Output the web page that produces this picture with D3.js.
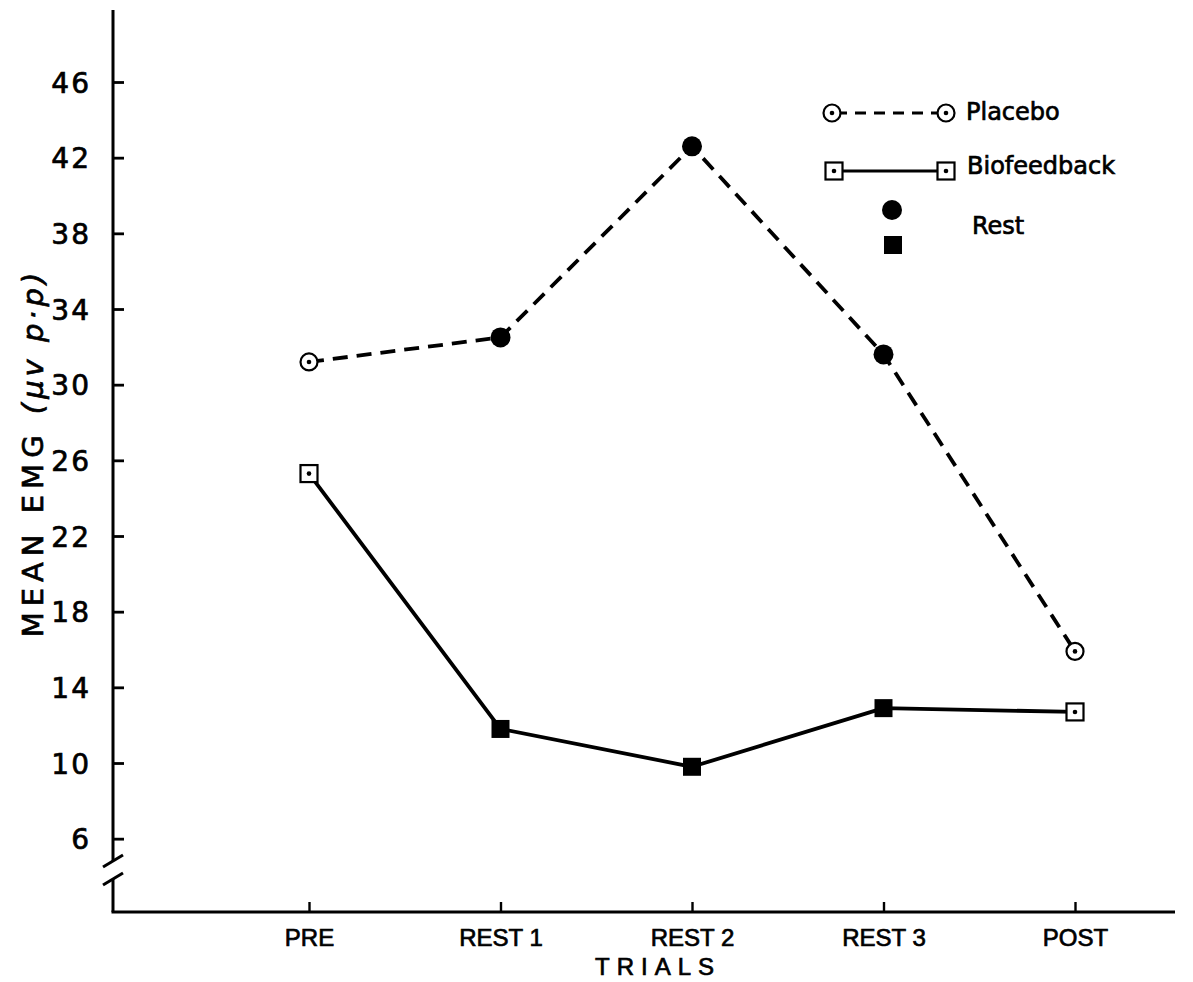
<!DOCTYPE html>
<html>
<head>
<meta charset="utf-8">
<script src="https://cdnjs.cloudflare.com/ajax/libs/d3/7.8.5/d3.min.js"></script>
<style>
  body { margin: 0; background: #fff; }
  svg { display: block; }
  text { fill: #000; stroke: #000; stroke-width: 0.7px; }
</style>
</head>
<body>
<script>
// values
var trials = ["PRE", "REST 1", "REST 2", "REST 3", "POST"];
var placebo = [31.2, 32.5, 42.6, 31.6, 15.9];
var biofeedback = [25.3, 11.8, 9.8, 12.9, 12.7];
var restFlag = [false, true, true, true, false];
var yTicks = [6, 10, 14, 18, 22, 26, 30, 34, 38, 42, 46];

var drawChart = () => {
  const w = 1193;
  const h = 982;
  const axisX = 113;
  const axisY = 912;
  const topY = 10;
  const rightX = 1175;

  var svg = d3.select("body")
    .append("svg")
    .attr("width", w)
    .attr("height", h);

  var x = d3.scalePoint()
    .domain(trials)
    .range([309, 1075]);

  var y = d3.scaleLinear()
    .domain([10, 46])
    .range([763, 82]);

  // y axis: ticks pointing inward, own line with a break near the bottom
  var yAxis = d3.axisLeft(y)
    .tickValues(yTicks)
    .tickSize(-11)
    .tickSizeOuter(0)
    .tickPadding(22);

  var gy = svg.append("g")
    .attr("transform", "translate(" + axisX + ",0)")
    .call(yAxis);
  gy.select(".domain").remove();
  gy.selectAll(".tick line").attr("stroke", "#000").attr("stroke-width", 2.8);
  gy.selectAll(".tick text")
    .attr("font-family", "DejaVu Sans")
    .attr("font-size", 28)
    .attr("letter-spacing", 2)
    .attr("dy", "0.36em");

  var brk1 = 861, brk2 = 879;
  svg.append("line")
    .attr("x1", axisX).attr("x2", axisX)
    .attr("y1", topY).attr("y2", brk1)
    .attr("stroke", "#000").attr("stroke-width", 3);
  svg.append("line")
    .attr("x1", axisX).attr("x2", axisX)
    .attr("y1", brk2).attr("y2", axisY)
    .attr("stroke", "#000").attr("stroke-width", 3);
  [brk1, brk2].forEach(b => {
    svg.append("line")
      .attr("x1", axisX - 10).attr("y1", b + 6)
      .attr("x2", axisX + 10).attr("y2", b - 6)
      .attr("stroke", "#000").attr("stroke-width", 3);
  });

  // x axis
  svg.append("line")
    .attr("x1", axisX - 1.5).attr("x2", rightX)
    .attr("y1", axisY).attr("y2", axisY)
    .attr("stroke", "#000").attr("stroke-width", 3);

  var xAxis = d3.axisBottom(x)
    .tickSize(-10)
    .tickSizeOuter(0);
  var gx = svg.append("g")
    .attr("transform", "translate(0," + axisY + ")")
    .call(xAxis);
  gx.select(".domain").remove();
  gx.selectAll(".tick line").attr("stroke", "#000").attr("stroke-width", 2.4);
  gx.selectAll(".tick text")
    .attr("font-family", "Liberation Sans")
    .attr("font-size", 24)
    .attr("y", 34)
    .attr("dy", 0);

  svg.append("text")
    .attr("x", 658)
    .attr("y", 975)
    .attr("text-anchor", "middle")
    .attr("font-family", "Liberation Sans")
    .attr("font-size", 24)
    .attr("letter-spacing", 7)
    .text("TRIALS");

  var ylab = svg.append("text")
    .attr("transform", "translate(43,453) rotate(-90)")
    .attr("text-anchor", "middle")
    .attr("font-family", "DejaVu Sans")
    .attr("font-size", 29)
    .attr("letter-spacing", 6);
  ylab.append("tspan").text("MEAN  EMG ");
  ylab.append("tspan").attr("font-style", "italic").attr("letter-spacing", 4).text("(\u03bcv p\u00b7p)");

  // lines
  var line = d3.line()
    .x((d, i) => x(trials[i]))
    .y(d => y(d));

  svg.append("path")
    .datum(placebo)
    .attr("d", line)
    .attr("fill", "none")
    .attr("stroke", "#000")
    .attr("stroke-width", 3.8)
    .attr("stroke-dasharray", "15,9");

  svg.append("path")
    .datum(biofeedback)
    .attr("d", line)
    .attr("fill", "none")
    .attr("stroke", "#000")
    .attr("stroke-width", 3.8)
    .attr("stroke-linejoin", "round");

  // markers
  var openCircle = (g, cx, cy) => {
    g.append("circle").attr("cx", cx).attr("cy", cy).attr("r", 8.5)
      .attr("fill", "#fff").attr("stroke", "#000").attr("stroke-width", 2.2);
    g.append("circle").attr("cx", cx).attr("cy", cy).attr("r", 2.3).attr("fill", "#000");
  };
  var openSquare = (g, cx, cy) => {
    g.append("rect").attr("x", cx - 8.5).attr("y", cy - 8.5).attr("width", 17).attr("height", 17)
      .attr("fill", "#fff").attr("stroke", "#000").attr("stroke-width", 2.2);
    g.append("circle").attr("cx", cx).attr("cy", cy).attr("r", 2.3).attr("fill", "#000");
  };
  var fullCircle = (g, cx, cy) => {
    g.append("circle").attr("cx", cx).attr("cy", cy).attr("r", 10).attr("fill", "#000");
  };
  var fullSquare = (g, cx, cy) => {
    g.append("rect").attr("x", cx - 9).attr("y", cy - 9).attr("width", 18).attr("height", 18).attr("fill", "#000");
  };

  var marks = svg.append("g");
  placebo.forEach((v, i) => {
    if (restFlag[i]) fullCircle(marks, x(trials[i]), y(v));
    else openCircle(marks, x(trials[i]), y(v));
  });
  biofeedback.forEach((v, i) => {
    if (restFlag[i]) fullSquare(marks, x(trials[i]), y(v));
    else openSquare(marks, x(trials[i]), y(v));
  });

  // legend
  var lg = svg.append("g");
  lg.append("line").attr("x1", 832).attr("x2", 946).attr("y1", 113).attr("y2", 113)
    .attr("stroke", "#000").attr("stroke-width", 3).attr("stroke-dasharray", "11,8").attr("stroke-dashoffset", -4);
  openCircle(lg, 832, 113);
  openCircle(lg, 946, 113);
  lg.append("line").attr("x1", 834).attr("x2", 946).attr("y1", 171).attr("y2", 171)
    .attr("stroke", "#000").attr("stroke-width", 3);
  openSquare(lg, 834, 171);
  openSquare(lg, 946, 171);
  fullCircle(lg, 892, 210);
  fullSquare(lg, 893, 245);

  var legendText = [["Placebo", 966, 120], ["Biofeedback", 967, 174], ["Rest", 972, 234]];
  lg.selectAll("text.leg")
    .data(legendText)
    .enter()
    .append("text")
    .attr("class", "leg")
    .attr("x", d => d[1])
    .attr("y", d => d[2])
    .attr("font-family", "DejaVu Sans")
    .attr("font-size", 24)
    .text(d => d[0]);
};

drawChart();
</script>
</body>
</html>
